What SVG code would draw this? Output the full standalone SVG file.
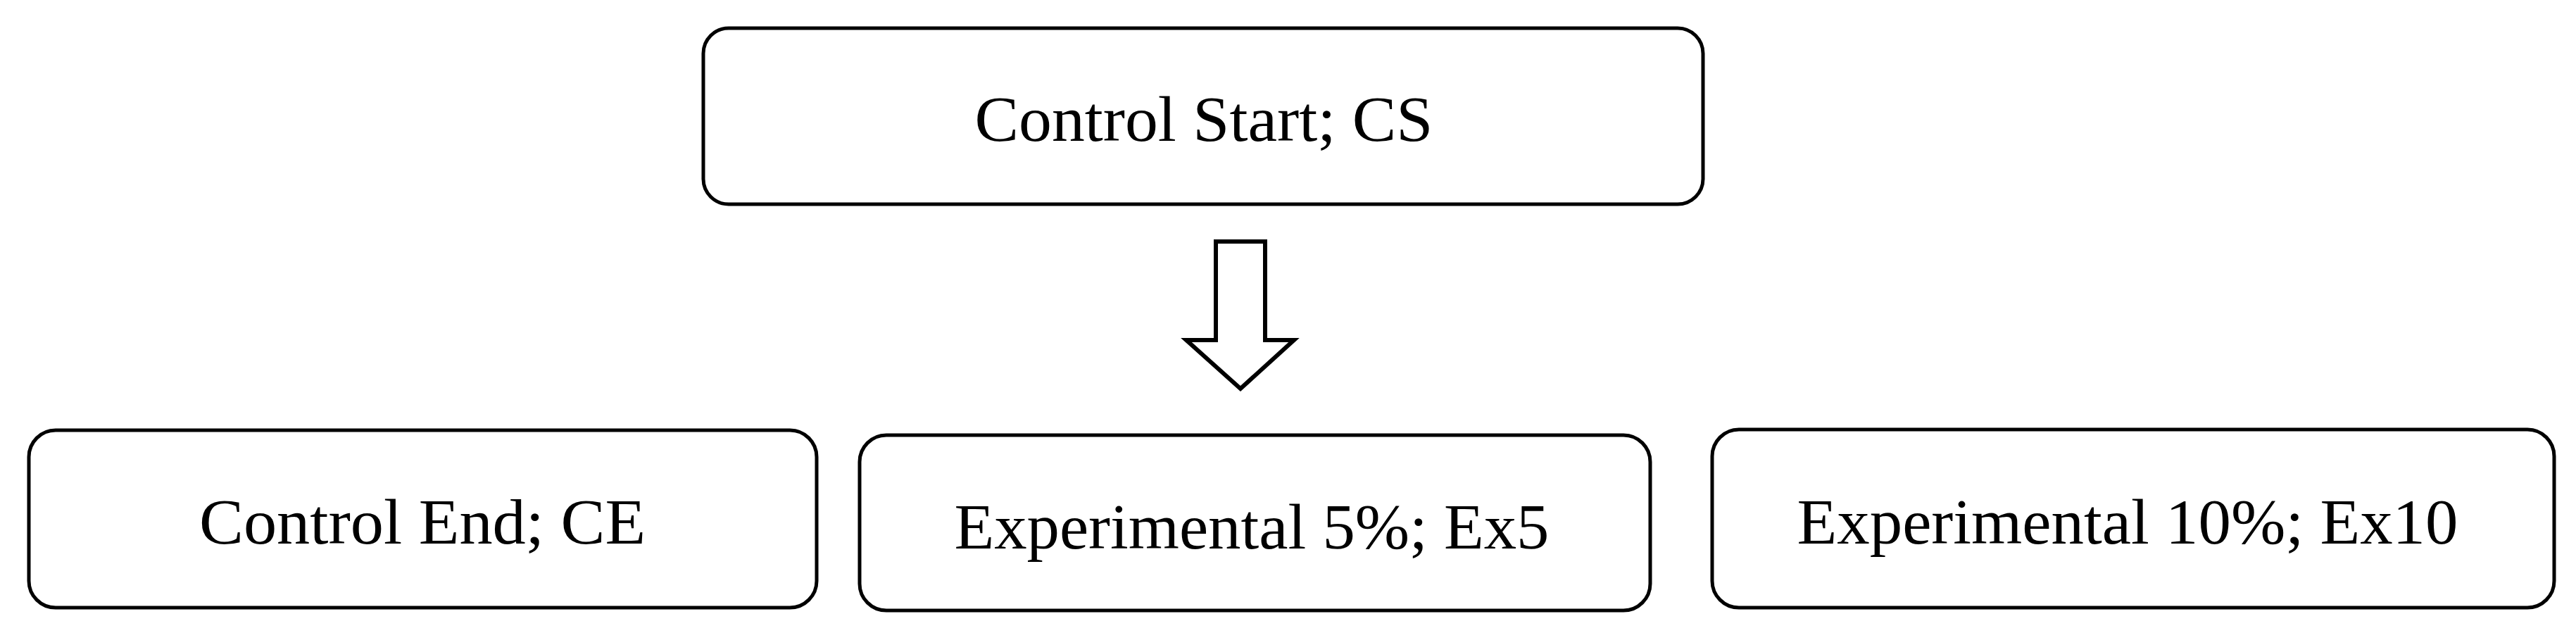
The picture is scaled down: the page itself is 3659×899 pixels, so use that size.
<svg xmlns="http://www.w3.org/2000/svg" width="3659" height="899" viewBox="0 0 3659 899">
<style>
.box{fill:#fff;stroke:#000;stroke-width:5}
.lbl{font-family:"Liberation Serif","DejaVu Serif",serif;font-size:90px;fill:#000;text-anchor:middle}
.arrow{fill:#fff;stroke:#000;stroke-width:6;stroke-linejoin:miter}
</style>
<rect width="3659" height="899" fill="#fff"/>
<g id="node-cs">
<rect class="box" x="999" y="40" width="1420" height="250" rx="36" ry="36"/>
<text class="lbl" x="1710" y="200" textLength="651" lengthAdjust="spacingAndGlyphs">Control Start; CS</text>
</g>
<g id="connectors">
<polygon class="arrow" points="1727,343 1797,343 1797,483 1838,483 1762,552 1685,483 1727,483"/>
</g>
<g id="node-ce">
<rect class="box" x="41" y="611" width="1119" height="252" rx="38" ry="38"/>
<text class="lbl" x="600" y="772" textLength="634" lengthAdjust="spacingAndGlyphs">Control End; CE</text>
</g>
<g id="node-ex5">
<rect class="box" x="1221" y="618" width="1123" height="249" rx="38" ry="38"/>
<text class="lbl" x="1778" y="779" textLength="845" lengthAdjust="spacingAndGlyphs">Experimental 5%; Ex5</text>
</g>
<g id="node-ex10">
<rect class="box" x="2432" y="610" width="1196" height="253" rx="38" ry="38"/>
<text class="lbl" x="3022" y="772" textLength="939" lengthAdjust="spacingAndGlyphs">Experimental 10%; Ex10</text>
</g>
</svg>
